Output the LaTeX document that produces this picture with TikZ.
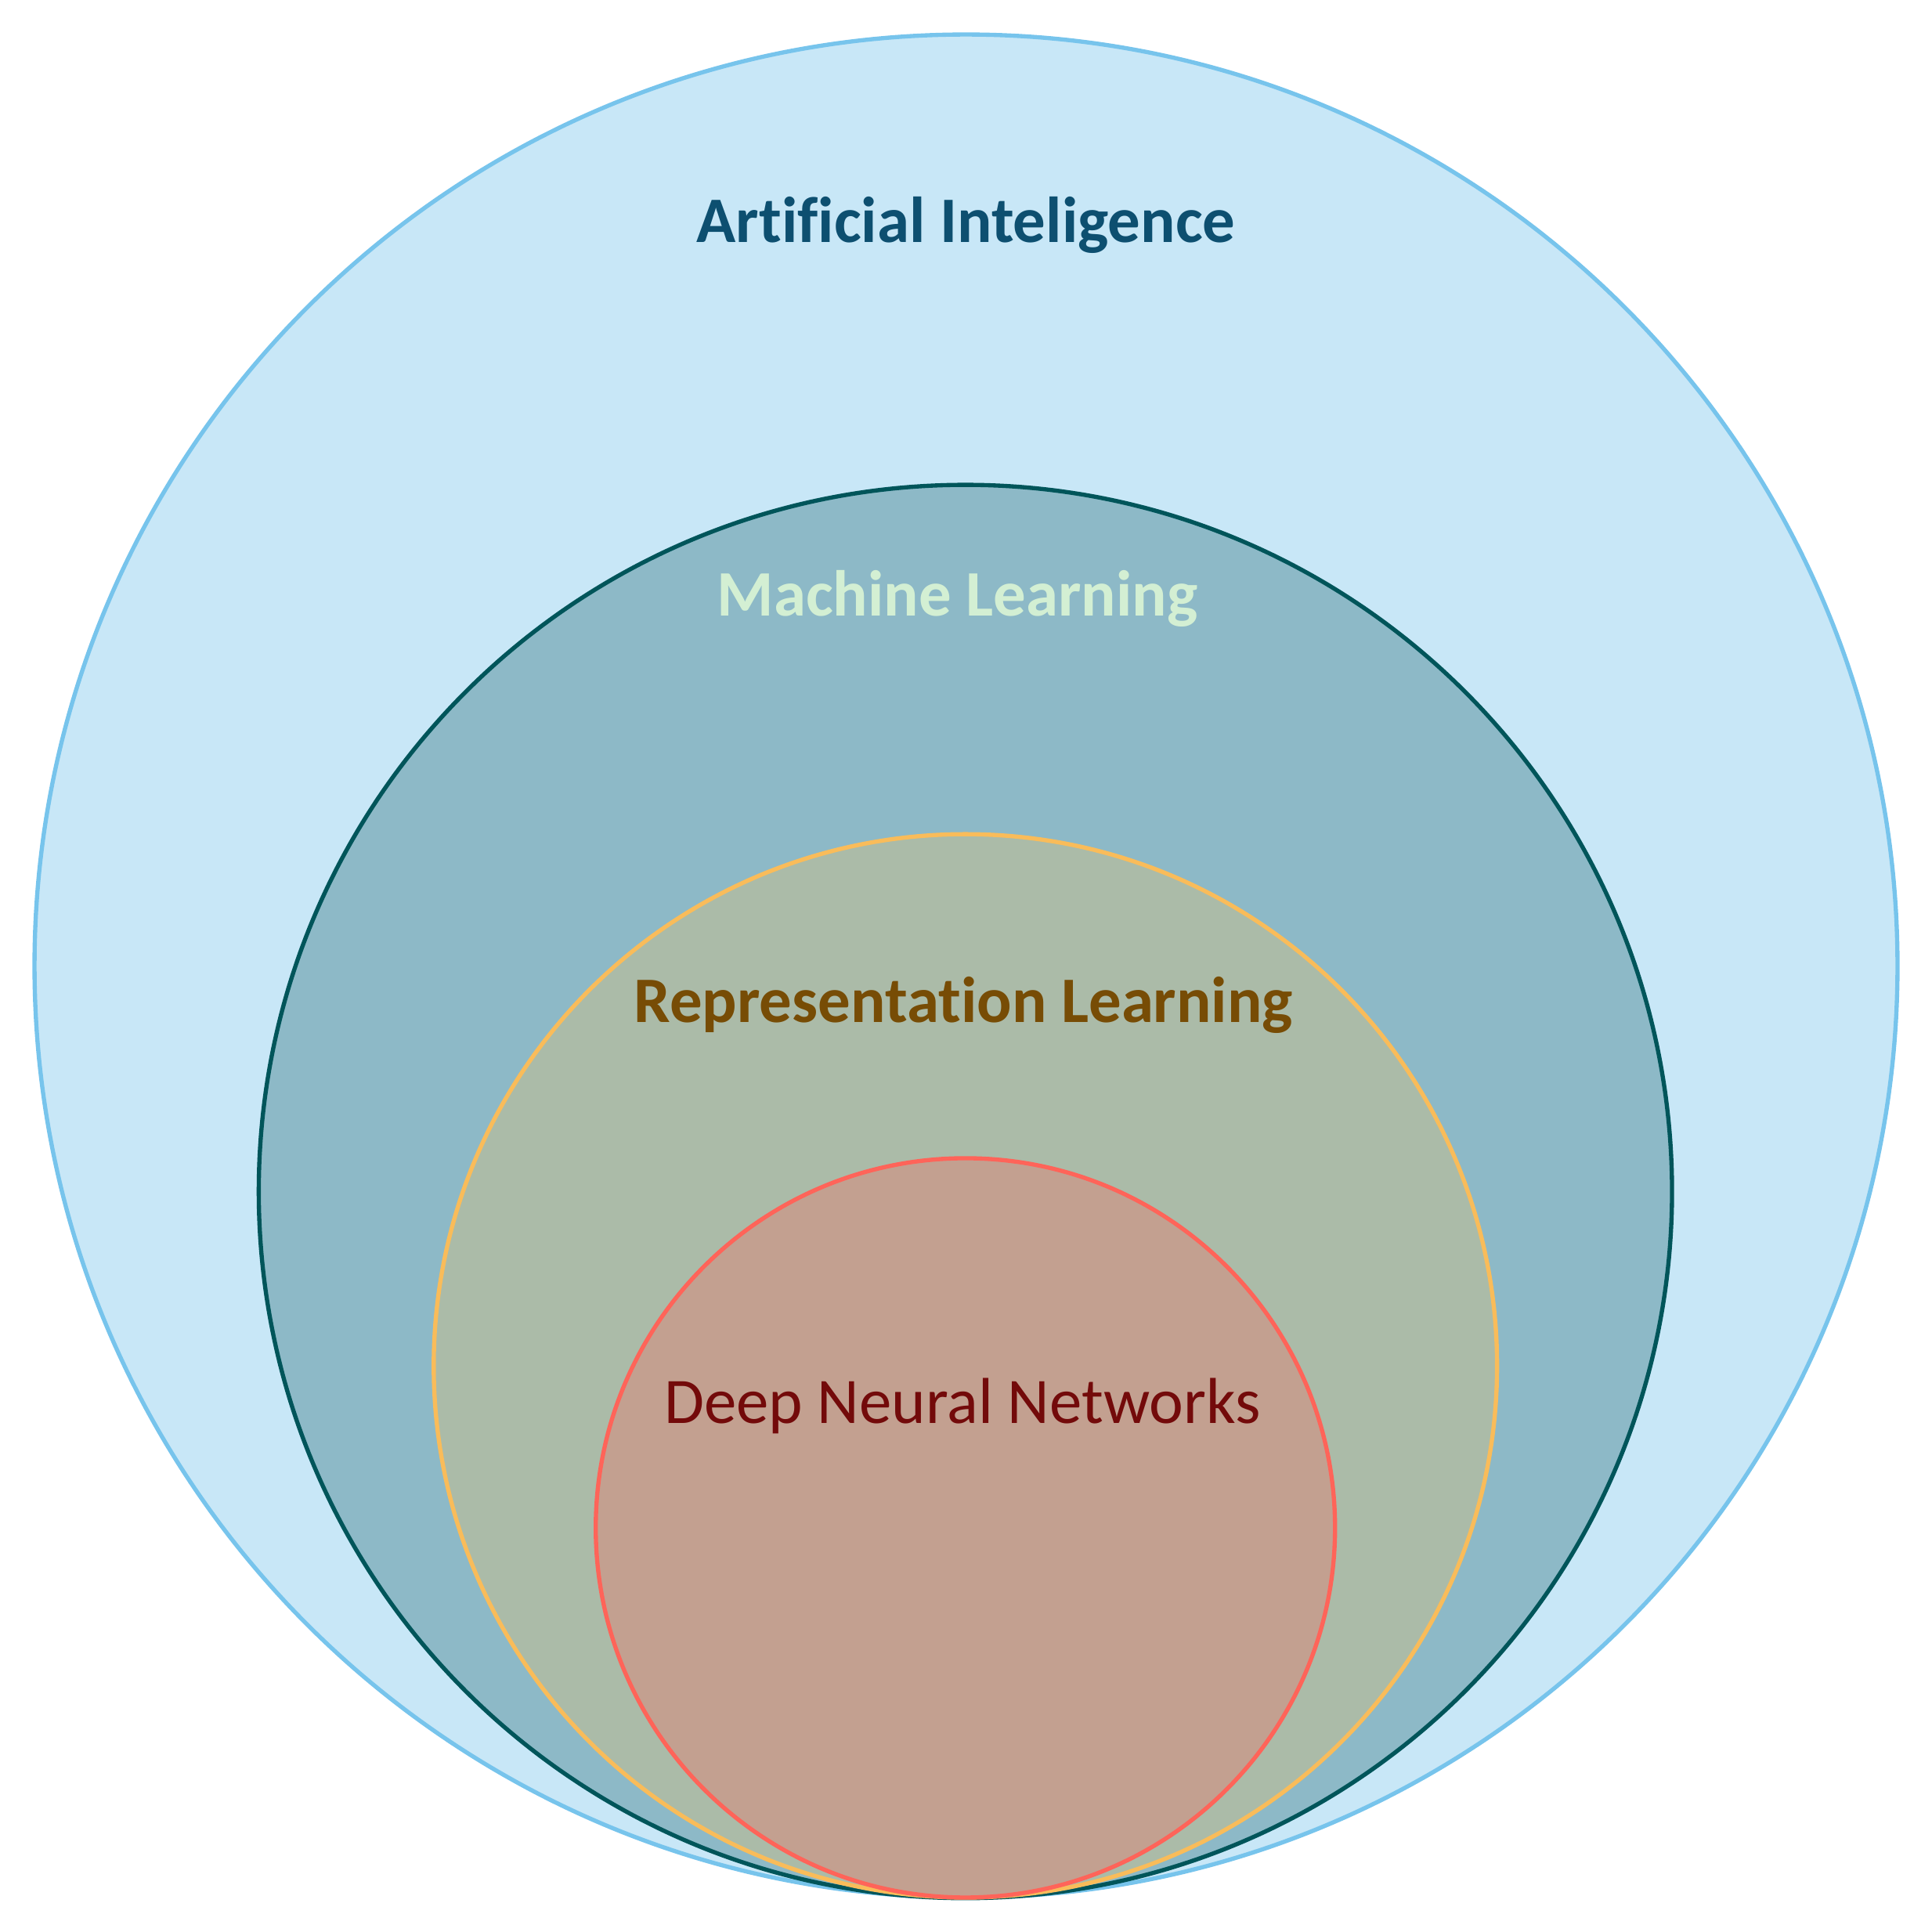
\documentclass[tikz,border=0pt]{standalone}
\usepackage{fontspec}
\setmainfont{Carlito}[Ligatures=NoCommon]
\definecolor{aiFill}{HTML}{C8E7F7}
\definecolor{aiLine}{HTML}{77C4EC}
\definecolor{aiText}{HTML}{0D4F70}
\definecolor{mlFill}{HTML}{8DB9C7}
\definecolor{mlLine}{HTML}{00555A}
\definecolor{mlText}{HTML}{D3EFD3}
\definecolor{rlFill}{HTML}{ABBBA8}
\definecolor{rlLine}{HTML}{F9BC5A}
\definecolor{rlText}{HTML}{774C05}
\definecolor{dnFill}{HTML}{C3A090}
\definecolor{dnLine}{HTML}{FF6459}
\definecolor{dnText}{HTML}{730A0A}
\tikzset{
  field/.style={circle, inner sep=0pt, outer sep=0pt, line width=3.4pt},
  fieldlabel/.style={anchor=base, inner sep=0pt, font=\fontsize{52.7}{60}\selectfont}
}
\begin{document}
\begin{tikzpicture}[x=1pt,y=-1pt]
\useasboundingbox (0,0) rectangle (1568,1568);
% nested fields, all touching at the bottom
\node[field, draw=aiLine, fill=aiFill, minimum size=1512pt] (ai) at (784,784) {};
\node[field, draw=mlLine, fill=mlFill, minimum size=1147pt] (ml) at (783.5,967) {};
\node[field, draw=rlLine, fill=rlFill, minimum size=863pt] (rl) at (783.5,1108.5) {};
\node[field, draw=dnLine, fill=dnFill, minimum size=600pt] (dn) at (783.5,1240) {};
% labels
\node[fieldlabel, text=aiText] (aiL) at (784,197) {\bfseries Artificial Inteligence};
\node[fieldlabel, text=mlText] (mlL) at (777,500) {\bfseries Machine Learning};
\node[fieldlabel, text=rlText] (rlL) at (782,830) {\bfseries Representation Learning};
\node[fieldlabel, text=dnText] (dnL) at (781,1155) {Deep Neural Networks};
\end{tikzpicture}
\end{document}
